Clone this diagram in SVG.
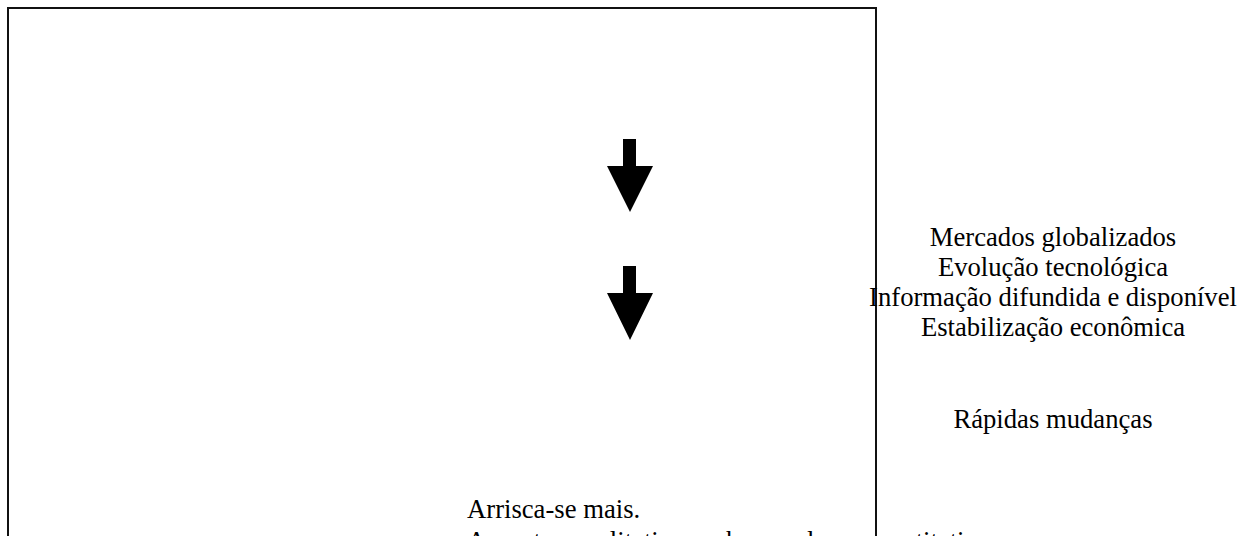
<svg xmlns="http://www.w3.org/2000/svg" width="1241" height="536" viewBox="0 0 1241 536">
  <style>
    .t { font-family: "Liberation Serif", "Times New Roman", serif; font-size: 26.67px; fill: #000; }
    .mid { text-anchor: middle; }
    .frame { fill: none; stroke: #111; stroke-width: 2; }
    .arrow { fill: #000; }
  </style>
  <rect width="1241" height="536" fill="#fff"/>

  <!-- outer frame, its bottom edge runs off the page -->
  <g id="frame">
    <rect class="frame" x="8" y="8" width="868" height="620"/>
  </g>

  <g id="connectors">
    <polygon class="arrow" points="623,139 636,139 636,166 653,166 630,212 607,166 623,166"/>
    <polygon class="arrow" points="623,266 636,266 636,293 653,293 630,340 607,293 623,293"/>
  </g>

  <g id="node-causes">
    <text class="t mid" x="1053" y="246">Mercados globalizados</text>
    <text class="t mid" x="1053" y="276">Evolução tecnológica</text>
    <text class="t mid" x="1053" y="306">Informação difundida e disponível</text>
    <text class="t mid" x="1053" y="336">Estabilização econômica</text>
  </g>

  <g id="node-changes">
    <text class="t mid" x="1053" y="428">Rápidas mudanças</text>
  </g>

  <g id="node-effects">
    <text class="t" x="467" y="518">Arrisca-se mais.</text>
    <text class="t" x="467" y="550">Aspectos qualitativos sobrepondo os quantitativos.</text>
  </g>
</svg>
